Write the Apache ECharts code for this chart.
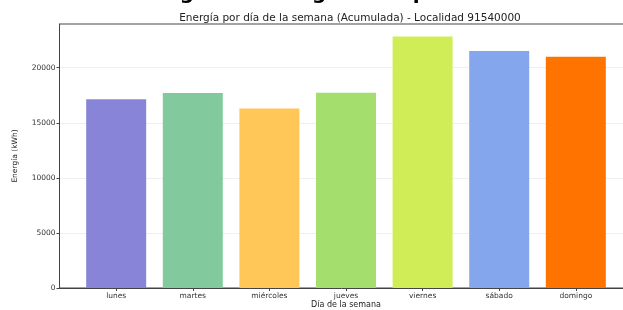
<!DOCTYPE html>
<html>
<head>
<meta charset="utf-8">
<script src="https://cdn.jsdelivr.net/npm/echarts@6/dist/echarts.min.js"></script>
<style>
  html, body { margin: 0; padding: 0; background: #fff; }
  #chart { width: 623px; height: 310px; }
</style>
</head>
<body>
<div id="chart"></div>
<script>
    // dias de la semana y energia acumulada (kWh)
    var dias = ['lunes', 'martes', 'miércoles', 'jueves', 'viernes', 'sábado', 'domingo'];
    var energia = [17150, 17700, 16300, 17730, 22830, 21530, 20990];
    var colores = ['#8884d8', '#82ca9d', '#ffc658', '#a4de6c', '#d0ed57', '#83a6ed', '#ff7300'];
    var yTicks = [0, 5000, 10000, 15000, 20000];

    var datos = [];
    for (var i = 0; i < dias.length; i++) {
        datos.push({ value: [i, energia[i]], itemStyle: { color: colores[i] } });
    }
    var idx = dias.map(function(d, i) { return i; });
    var yMax = Math.max.apply(null, energia) * 1.05;

    var myChart = echarts.init(document.getElementById('chart'));
    var option = {
        animation: false,
        title: [{
            // titulo grande cortado arriba
            text: 'Energía Total Registrada por Día',
            left: 'center',
            top: -21,
            textStyle: { fontSize: 20, fontWeight: 'bold', color: '#000', fontFamily: 'DejaVu Sans' }
        }, {
            text: 'Energía por día de la semana (Acumulada) - Localidad 91540000',
            left: 345,
            textAlign: 'center',
            top: 8,
            textStyle: { fontSize: 10.5, fontWeight: 'normal', color: '#222', fontFamily: 'DejaVu Sans' }
        }],
        grid: {
            left: 59.5, top: 24, width: 573, height: 264,
            outerBoundsMode: 'none',
            containLabel: false,
            show: true, borderColor: '#444', borderWidth: 1, backgroundColor: 'transparent'
        },
        xAxis: {
            type: 'value',
            min: -0.74,
            max: 6.74,
            name: 'Día de la semana',
            nameLocation: 'middle',
            nameMoveOverlap: false,
            nameGap: 13,
            nameTextStyle: { fontSize: 8, color: '#222', fontFamily: 'DejaVu Sans' },
            axisLine: { show: true, onZero: false, lineStyle: { color: '#444' } },
            axisTick: { show: true, length: 3, customValues: idx, lineStyle: { color: '#444' } },
            axisLabel: {
                customValues: idx,
                fontSize: 7.5, color: '#333', margin: 4, fontFamily: 'DejaVu Sans',
                formatter: function(v) { return dias[Math.round(v)]; }
            },
            splitLine: { show: false }
        },
        yAxis: {
            type: 'value',
            min: 0,
            max: yMax,
            name: 'Energía (kWh)',
            nameLocation: 'middle',
            nameGap: 40,
            nameTextStyle: { fontSize: 7.5, color: '#222', fontFamily: 'DejaVu Sans' },
            axisLine: { show: true, onZero: false, lineStyle: { color: '#444' } },
            axisTick: { show: true, length: 3, customValues: yTicks, lineStyle: { color: '#444' } },
            axisLabel: {
                customValues: yTicks, fontSize: 7.5, color: '#333', margin: 4, fontFamily: 'DejaVu Sans',
                formatter: function(v) { return String(v); }
            },
            splitLine: { show: true, lineStyle: { color: '#ebebeb', type: 'solid', width: 0.8 } }
        },
        series: [{
            type: 'bar',
            data: datos,
            barWidth: 60
        }]
    };
    myChart.setOption(option);
</script>
</body>
</html>
